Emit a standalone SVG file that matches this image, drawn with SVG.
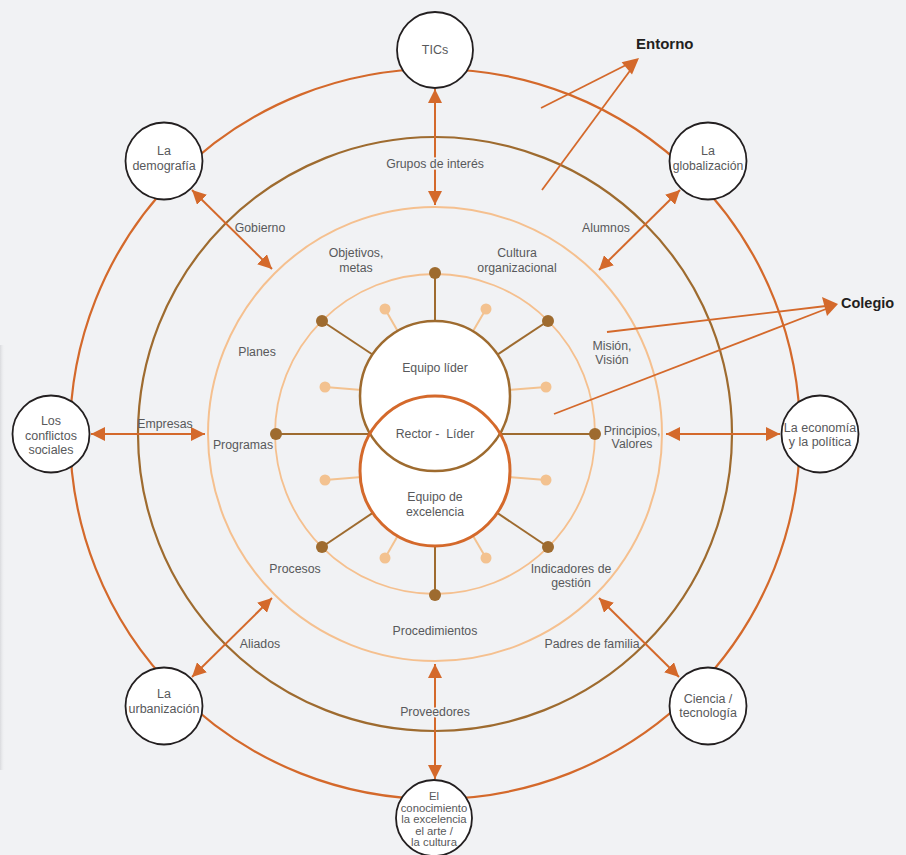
<svg xmlns="http://www.w3.org/2000/svg" width="906" height="855" viewBox="0 0 906 855">
<defs>
<marker id="ah" markerUnits="userSpaceOnUse" markerWidth="14" markerHeight="14" refX="14" refY="7" orient="auto-start-reverse" viewBox="0 0 14 14">
<path d="M0,0 L14,7 L0,14 z" fill="#d4692b"/>
</marker>
<linearGradient id="edge" x1="0" y1="0" x2="1" y2="0">
<stop offset="0" stop-color="#d9dadd"/>
<stop offset="1" stop-color="#f1f2f4" stop-opacity="0"/>
</linearGradient>
</defs>
<style>
.lbl{font-family:"Liberation Sans",Arial,sans-serif;font-size:12.3px;fill:#58595b;text-anchor:middle}
.nt{font-family:"Liberation Sans",Arial,sans-serif;font-size:12.5px;fill:#58595b;text-anchor:middle}
.sm{font-family:"Liberation Sans",Arial,sans-serif;font-size:11.3px;fill:#58595b;text-anchor:middle}
.bold{font-family:"Liberation Sans",Arial,sans-serif;font-weight:bold;fill:#231f20}
.halo{paint-order:stroke;stroke:#f1f2f4;stroke-width:3px}
.node{fill:#ffffff;stroke:#231f20;stroke-width:1.8}
.arr{stroke:#d4692b;stroke-width:2;fill:none;marker-start:url(#ah);marker-end:url(#ah)}
.pl{stroke:#d4692b;stroke-width:1.8;fill:none}
.sp{stroke:#9e6b2f;stroke-width:2}
.lsp{stroke:#f3c290;stroke-width:2}
</style>
<rect x="0" y="0" width="906" height="855" fill="#f1f2f4"/>
<rect x="0" y="345" width="5" height="425" fill="url(#edge)"/>

<g id="rings" fill="none">
<circle cx="435" cy="434" r="365" stroke="#d4692b" stroke-width="2.2"/>
<circle cx="435" cy="434" r="297" stroke="#9e6b2f" stroke-width="2.2"/>
<circle cx="435" cy="434" r="227" stroke="#f5c08f" stroke-width="2"/>
<circle cx="435" cy="434" r="160" stroke="#f5c08f" stroke-width="1.8"/>
</g>

<g id="spokes">
<line class="sp" x1="276" y1="434" x2="595" y2="434"/>
<line class="sp" x1="435" y1="273" x2="435" y2="396"/>
<line class="sp" x1="435" y1="594" x2="435" y2="471"/>
<line class="sp" x1="322" y1="321" x2="435" y2="396"/>
<line class="sp" x1="548" y1="321" x2="435" y2="396"/>
<line class="sp" x1="322" y1="547" x2="435" y2="471"/>
<line class="sp" x1="548" y1="547" x2="435" y2="471"/>
<line class="lsp" x1="385" y1="309" x2="435" y2="396"/>
<line class="lsp" x1="486" y1="309" x2="435" y2="396"/>
<line class="lsp" x1="325" y1="387" x2="435" y2="396"/>
<line class="lsp" x1="546" y1="387" x2="435" y2="396"/>
<line class="lsp" x1="325" y1="480" x2="435" y2="471"/>
<line class="lsp" x1="546" y1="480" x2="435" y2="471"/>
<line class="lsp" x1="385" y1="558" x2="435" y2="471"/>
<line class="lsp" x1="486" y1="558" x2="435" y2="471"/>
<g fill="#9e6b2f">
<circle cx="435" cy="273" r="6"/>
<circle cx="548" cy="321" r="6"/>
<circle cx="595" cy="434" r="6"/>
<circle cx="548" cy="547" r="6"/>
<circle cx="435" cy="595" r="6"/>
<circle cx="322" cy="547" r="6"/>
<circle cx="276" cy="434" r="6"/>
<circle cx="322" cy="321" r="6"/>
</g>
<g fill="#f3c290">
<circle cx="385" cy="309" r="5.5"/>
<circle cx="486" cy="309" r="5.5"/>
<circle cx="325" cy="387" r="5.5"/>
<circle cx="546" cy="387" r="5.5"/>
<circle cx="325" cy="480" r="5.5"/>
<circle cx="546" cy="480" r="5.5"/>
<circle cx="385" cy="558" r="5.5"/>
<circle cx="486" cy="558" r="5.5"/>
</g>
</g>

<g id="core">
<circle cx="435" cy="396" r="75" fill="#ffffff"/>
<circle cx="435" cy="471" r="75" fill="#ffffff"/>
<circle cx="435" cy="396" r="75" fill="none" stroke="#9e6b2f" stroke-width="2.5"/>
<circle cx="435" cy="471" r="75" fill="none" stroke="#d4692b" stroke-width="3"/>
<text class="lbl" x="435" y="372">Equipo líder</text>
<text class="lbl" x="435" y="438" xml:space="preserve" style="white-space:pre">Rector -  Líder</text>
<text class="lbl" x="435" y="501">Equipo de</text>
<text class="lbl" x="435" y="516">excelencia</text>
</g>

<g id="connectors">
<line class="arr" x1="435" y1="89" x2="435" y2="205"/>
<line class="arr" x1="435" y1="664" x2="435" y2="779"/>
<line class="arr" x1="91" y1="434" x2="205" y2="434"/>
<line class="arr" x1="666" y1="434" x2="780" y2="434"/>
<line class="arr" x1="192" y1="190" x2="272" y2="269"/>
<line class="arr" x1="680" y1="190" x2="599" y2="270"/>
<line class="arr" x1="272" y1="598" x2="192" y2="677"/>
<line class="arr" x1="599" y1="598" x2="679" y2="677"/>
<line class="pl" x1="541" y1="108" x2="630" y2="63"/>
<line class="pl" x1="542" y1="190" x2="632" y2="68"/>
<path d="M639,58 L621.6,62.3 L632,74.5 z" fill="#d4692b"/>
<line class="pl" x1="607" y1="332" x2="826" y2="306"/>
<line class="pl" x1="554" y1="414" x2="826" y2="309"/>
<path d="M838,304 L822,297 L827,316 z" fill="#d4692b"/>
</g>

<g id="ring-labels">
<text class="lbl halo" x="435" y="168">Grupos de interés</text>
<text class="lbl" x="260" y="232">Gobierno</text>
<text class="lbl" x="606" y="232">Alumnos</text>
<text class="lbl" x="165" y="428">Empresas</text>
<text class="lbl" x="260" y="648">Aliados</text>
<text class="lbl" x="592" y="648">Padres de familia</text>
<text class="lbl halo" x="435" y="716">Proveedores</text>
<text class="lbl" x="356" y="257">Objetivos,</text>
<text class="lbl" x="356" y="272">metas</text>
<text class="lbl" x="517" y="257">Cultura</text>
<text class="lbl" x="517" y="272">organizacional</text>
<text class="lbl" x="257" y="356">Planes</text>
<text class="lbl" x="612" y="350">Misión,</text>
<text class="lbl" x="612" y="364">Visión</text>
<text class="lbl" x="243" y="449">Programas</text>
<text class="lbl" x="632" y="435">Principios,</text>
<text class="lbl" x="632" y="448">Valores</text>
<text class="lbl" x="295" y="573">Procesos</text>
<text class="lbl" x="571" y="573">Indicadores de</text>
<text class="lbl" x="571" y="587">gestión</text>
<text class="lbl" x="435" y="635">Procedimientos</text>
<text class="bold" x="636" y="49" font-size="15">Entorno</text>
<text class="bold" x="841" y="308" font-size="14.5">Colegio</text>
</g>

<g id="node-tics">
<circle class="node" cx="435" cy="50" r="38"/>
<text class="nt" x="435" y="54">TICs</text>
</g>
<g id="node-demografia">
<circle class="node" cx="164" cy="161" r="38.5"/>
<text class="nt" x="164" y="155">La</text>
<text class="nt" x="164" y="170">demografía</text>
</g>
<g id="node-globalizacion">
<circle class="node" cx="708" cy="161" r="38.5"/>
<text class="nt" x="708" y="155">La</text>
<text class="nt" x="708" y="170" style="font-size:12.2px">globalización</text>
</g>
<g id="node-conflictos">
<circle class="node" cx="51" cy="434" r="38.5"/>
<text class="nt" x="51" y="425">Los</text>
<text class="nt" x="51" y="440">conflictos</text>
<text class="nt" x="51" y="454">sociales</text>
</g>
<g id="node-economia">
<circle class="node" cx="820" cy="434" r="38.5"/>
<text class="nt" x="820" y="432">La economía</text>
<text class="nt" x="820" y="446">y la política</text>
</g>
<g id="node-urbanizacion">
<circle class="node" cx="164" cy="706" r="38.5"/>
<text class="nt" x="164" y="698">La</text>
<text class="nt" x="164" y="713">urbanización</text>
</g>
<g id="node-ciencia">
<circle class="node" cx="708" cy="706" r="38.5"/>
<text class="nt" x="708" y="703">Ciencia /</text>
<text class="nt" x="708" y="717">tecnología</text>
</g>
<g id="node-conocimiento">
<circle class="node" cx="434" cy="818" r="38"/>
<text class="sm" x="434" y="800">El</text>
<text class="sm" x="434" y="811.5">conocimiento</text>
<text class="sm" x="434" y="823">la excelencia</text>
<text class="sm" x="434" y="834.5">el arte /</text>
<text class="sm" x="434" y="846">la cultura</text>
</g>
</svg>
